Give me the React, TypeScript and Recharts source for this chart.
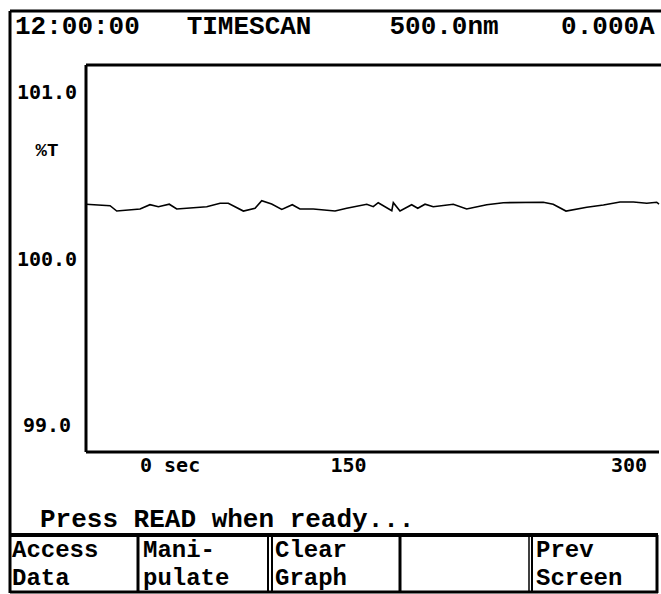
import { LineChart, Line, XAxis, YAxis, ReferenceLine } from 'recharts';

const times = [
  0, 12.6, 16.1, 28.3, 33.5, 37.9, 43.6, 47.5, 63.2, 70.2, 74.5, 82.4, 88.5, 92.0, 97.2,
  102.5, 108.0, 112.0, 119.0, 130.4, 136.5, 147.0, 150.4, 153.0, 160.1, 160.9, 164.4,
  170.5, 173.7, 177.5, 181.8, 192.3, 199.3, 209.8, 218.5, 239.4, 244.6, 251.3, 262.2,
  270.9, 279.6, 286.6, 293.6, 298.8, 300,
];
const transmittance = [
  100.326, 100.317, 100.285, 100.297, 100.323, 100.311, 100.326, 100.297, 100.311, 100.332,
  100.332, 100.285, 100.302, 100.347, 100.327, 100.295, 100.323, 100.297, 100.297, 100.285,
  100.302, 100.326, 100.311, 100.335, 100.287, 100.335, 100.285, 100.323, 100.302, 100.326,
  100.311, 100.326, 100.297, 100.323, 100.335, 100.338, 100.326, 100.285, 100.308, 100.321,
  100.339, 100.339, 100.332, 100.338, 100.327,
];
const xTicks = [0, 150, 300];
const xTickLabels = ['0 sec', '150', '300'];
const yTicks = [99, 100, 101];
const yDomain: [number, number] = [98.838, 101.162];

const header = '12:00:00   TIMESCAN     500.0nm    0.000A';
const prompt = 'Press READ when ready...';
const buttons = [
  ['Access', 'Data'],
  ['Mani-', 'pulate'],
  ['Clear', 'Graph'],
  ['', ''],
  ['Prev', 'Screen'],
];

const data = times.map((t, i) => ({ t, v: transmittance[i] }));

const courier = '"Courier New", "Liberation Mono", monospace';
const sansMono = '"DejaVu Sans Mono", monospace';

function YTick({ y, payload }: any) {
  return (
    <text x={47} y={y} textAnchor="middle" dominantBaseline="central"
      fontFamily={sansMono} fontWeight="bold" fontSize={20} fill="#000">
      {payload.value.toFixed(1)}
    </text>
  );
}

function XTick({ x, payload, index }: any) {
  const i = xTicks.indexOf(payload.value);
  const anchor = i === 0 ? 'start' : i === 2 ? 'end' : 'middle';
  const dx = i === 0 ? 54 : i === 2 ? -2 : -24;
  return (
    <text key={index} x={x + dx} y={465} textAnchor={anchor} dominantBaseline="central"
      fontFamily={sansMono} fontWeight="bold" fontSize={20} fill="#000">
      {xTickLabels[i]}
    </text>
  );
}

export default function App() {
  const cellEdges = [10, 138, 270, 400, 531, 657];
  return (
    <div style={{ position: 'absolute', left: 0, top: 0, width: 661, height: 594, overflow: 'hidden', background: '#fff' }}>
      <LineChart width={661} height={594} data={data} margin={{ top: 65, right: 2, bottom: 112, left: 10 }}>
        <XAxis dataKey="t" type="number" domain={[0, 300]} ticks={xTicks} height={30}
          axisLine={{ stroke: '#000', strokeWidth: 3 }} tickLine={false} tick={<XTick />} />
        <YAxis type="number" domain={yDomain} ticks={yTicks} width={76}
          axisLine={{ stroke: '#000', strokeWidth: 3 }} tickLine={false} tick={<YTick />} />
        <ReferenceLine y={yDomain[1]} stroke="#000" strokeWidth={3} ifOverflow="visible" />
        <Line dataKey="v" type="linear" stroke="#000" strokeWidth={1.6} dot={false} isAnimationActive={false} />
      </LineChart>

      <svg width={661} height={594} style={{ position: 'absolute', left: 0, top: 0, pointerEvents: 'none' }}>
        {/* outer screen frame */}
        <line x1={10} y1={11} x2={661} y2={11} stroke="#000" strokeWidth={3} />
        <line x1={10} y1={11} x2={10} y2={593} stroke="#000" strokeWidth={3} />
        <line x1={659} y1={65} x2={661} y2={65} stroke="#000" strokeWidth={3} />

        <text x={15} y={34} fontFamily={courier} fontWeight="bold" fontSize={26} style={{ whiteSpace: 'pre' }} xmlSpace="preserve">
          {header}
        </text>
        <text x={47} y={156} textAnchor="middle" fontFamily={courier} fontWeight="bold" fontSize={19}>%T</text>
        <text x={40} y={527} fontFamily={courier} fontWeight="bold" fontSize={26} style={{ whiteSpace: 'pre' }} xmlSpace="preserve">
          {prompt}
        </text>

        {/* soft key row */}
        <line x1={10} y1={535} x2={658} y2={535} stroke="#000" strokeWidth={4} />
        <line x1={10} y1={592} x2={658} y2={592} stroke="#000" strokeWidth={3} />
        <line x1={657} y1={535} x2={657} y2={593} stroke="#000" strokeWidth={3} />
        <line x1={138} y1={535} x2={138} y2={593} stroke="#000" strokeWidth={3} />
        <line x1={268} y1={535} x2={268} y2={593} stroke="#000" strokeWidth={2} />
        <line x1={272} y1={535} x2={272} y2={593} stroke="#000" strokeWidth={2} />
        <line x1={400} y1={535} x2={400} y2={593} stroke="#000" strokeWidth={3} />
        <line x1={529} y1={535} x2={529} y2={593} stroke="#000" strokeWidth={1.5} />
        <line x1={532} y1={535} x2={532} y2={593} stroke="#000" strokeWidth={2} />
        {buttons.map((b, i) => (
          <g key={i}>
            <text x={cellEdges[i] + (i === 0 ? 2 : 5)} y={557} fontFamily={courier} fontWeight="bold" fontSize={24}>{b[0]}</text>
            <text x={cellEdges[i] + (i === 0 ? 2 : 5)} y={585} fontFamily={courier} fontWeight="bold" fontSize={24}>{b[1]}</text>
          </g>
        ))}
      </svg>
    </div>
  );
}
